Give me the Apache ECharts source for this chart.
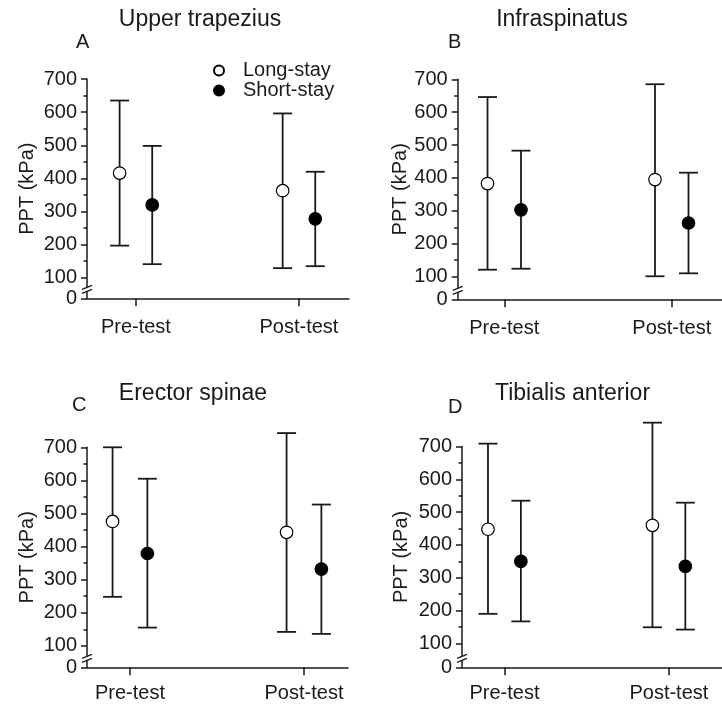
<!DOCTYPE html>
<html><head><meta charset="utf-8">
<script src="https://cdn.jsdelivr.net/npm/echarts@6/dist/echarts.min.js"></script>
<style>html,body{margin:0;padding:0;background:#fff}#c{width:722px;height:709px}</style>
</head><body><div id="c"></div>
<script>
// ---- data ----
const categories = ['Pre-test', 'Post-test'];
const muscles = ['Upper trapezius', 'Infraspinatus', 'Erector spinae', 'Tibialis anterior'];
const panelLetters = ['A', 'B', 'C', 'D'];
const seriesNames = ['Long-stay', 'Short-stay'];
const yTickValues = [100, 200, 300, 400, 500, 600, 700];
const yMinorTickValues = [150, 250, 350, 450, 550, 650];
const breakLabel = '0';
const yAxisName = 'PPT (kPa)';
// rows: muscles; columns: [Pre-test, Post-test]
const longMean  = [[416, 363], [383, 395], [476, 443], [448, 460]];
const longLow   = [[197, 129], [121, 101], [248, 142], [190, 149]];
const longHigh  = [[635, 596], [646, 685], [700, 743], [709, 773]];
const shortMean = [[320, 278], [303, 263], [379, 332], [350, 335]];
const shortLow  = [[141, 135], [124, 110], [155, 136], [167, 142]];
const shortHigh = [[498, 420], [483, 416], [605, 527], [535, 529]];

// ---- layout / style ----
const FONT = '"Liberation Sans", Arial, sans-serif';
const INK = '#1a1a1a';
const OFF = 0.1;
const FS = 20;
const panels = [
  {left: 87,    top: 79,    width: 262,   height: 219.3, xMin: -0.30,  xMax: 1.307, yMin: 38, nameGap: 50, xLabelMargin: 19, titleX: 200,   titleTop: 8,   letterX: 76,  letterTop: 32},
  {left: 457.7, top: 79.3,  width: 274.6, height: 220,   xMin: -0.278, xMax: 1.3,   yMin: 31, nameGap: 47, xLabelMargin: 19, titleX: 562,   titleTop: 8,   letterX: 448, letterTop: 32},
  {left: 87,    top: 447.3, width: 261,   height: 220,   xMin: -0.247, xMax: 1.253, yMin: 35, nameGap: 50, xLabelMargin: 16, titleX: 193,   titleTop: 382, letterX: 72,  letterTop: 395},
  {left: 462,   top: 446.6, width: 274,   height: 220.7, xMin: -0.258, xMax: 1.323, yMin: 27, nameGap: 51, xLabelMargin: 16, titleX: 572.5, titleTop: 382, letterX: 448, letterTop: 397}
];

const chart = echarts.init(document.getElementById('c'), null, {renderer: 'canvas'});

function errRender(params, api) {
  const x = api.value(0), lo = api.value(1), hi = api.value(2);
  const a = api.coord([x, lo]), b = api.coord([x, hi]);
  const hw = 9.5;
  const st = {stroke: INK, lineWidth: 1.8};
  return {type: 'group', children: [
    {type: 'line', shape: {x1: a[0], y1: a[1], x2: b[0], y2: b[1]}, style: st},
    {type: 'line', shape: {x1: a[0] - hw, y1: a[1], x2: a[0] + hw, y2: a[1]}, style: st},
    {type: 'line', shape: {x1: b[0] - hw, y1: b[1], x2: b[0] + hw, y2: b[1]}, style: st}
  ]};
}
function breakRender(params, api) {
  const p = api.coord([api.value(0), api.value(1)]);
  const cx = p[0], cy = p[1] - 9;
  const st = {stroke: INK, lineWidth: 1.3};
  return {type: 'group', children: [
    {type: 'polygon', shape: {points: [[cx - 5, cy], [cx + 5, cy - 4], [cx + 5, cy], [cx - 5, cy + 4]]}, style: {fill: '#fff'}},
    {type: 'line', shape: {x1: cx - 5, y1: cy, x2: cx + 5, y2: cy - 4}, style: st},
    {type: 'line', shape: {x1: cx - 5, y1: cy + 4, x2: cx + 5, y2: cy}, style: st}
  ]};
}

const titles = [];
panels.forEach((p, i) => {
  titles.push({text: muscles[i], left: p.titleX, top: p.titleTop, textAlign: 'center', padding: 0,
    textStyle: {fontFamily: FONT, fontSize: 23, fontWeight: 'normal', color: INK}});
  titles.push({text: panelLetters[i], left: p.letterX, top: p.letterTop, padding: 0,
    textStyle: {fontFamily: FONT, fontSize: 20, fontWeight: 'normal', color: INK}});
});

const xAxes = panels.map((p, i) => ({
  gridIndex: i, type: 'value', min: p.xMin, max: p.xMax,
  axisLine: {onZero: false, lineStyle: {color: INK, width: 1.5}},
  axisTick: {customValues: [0, 1], length: 8, lineStyle: {color: INK, width: 1.5}},
  axisLabel: {customValues: [0, 1], formatter: v => categories[Math.round(v)], fontFamily: FONT, fontSize: FS, color: INK, margin: p.xLabelMargin},
  splitLine: {show: false}
}));
const yMajor = panels.map((p, i) => ({
  gridIndex: i, type: 'value', min: p.yMin, max: 700, position: 'left',
  name: yAxisName, nameLocation: 'middle', nameGap: p.nameGap,
  nameTextStyle: {fontFamily: FONT, fontSize: FS, color: INK},
  axisLine: {show: true, onZero: false, lineStyle: {color: INK, width: 1.5}},
  axisTick: {customValues: [p.yMin].concat(yTickValues), length: 6, lineStyle: {color: INK, width: 1.5}},
  axisLabel: {customValues: [p.yMin].concat(yTickValues), formatter: v => (v < yTickValues[0] ? breakLabel : String(v)),
    fontFamily: FONT, fontSize: FS, color: INK, margin: 10},
  splitLine: {show: false}
}));
const yMinor = panels.map((p, i) => ({
  gridIndex: i, type: 'value', min: p.yMin, max: 700, position: 'left',
  axisLine: {show: false, onZero: false},
  axisTick: {show: true, customValues: yMinorTickValues, length: 3.5, lineStyle: {color: INK, width: 1.5}},
  axisLabel: {show: false}, splitLine: {show: false}
}));

const series = [];
panels.forEach((p, i) => {
  const groups = [
    {name: seriesNames[0], mean: longMean[i], lo: longLow[i], hi: longHigh[i], dx: -OFF, fill: '#fff'},
    {name: seriesNames[1], mean: shortMean[i], lo: shortLow[i], hi: shortHigh[i], dx: OFF, fill: '#000'}
  ];
  groups.forEach(g => {
    series.push({
      type: 'custom', xAxisIndex: i, yAxisIndex: i, clip: false, silent: true, z: 2,
      renderItem: errRender, encode: {x: 0, y: [1, 2]},
      data: categories.map((c, j) => [j + g.dx, g.lo[j], g.hi[j]])
    });
    series.push({
      type: 'scatter', name: g.name, xAxisIndex: i, yAxisIndex: i, clip: false, silent: true, z: 5,
      symbol: 'circle', symbolSize: 12.5,
      itemStyle: {color: g.fill, borderColor: '#000', borderWidth: 1.2, opacity: 1},
      emphasis: {disabled: true},
      data: categories.map((c, j) => [j + g.dx, g.mean[j]])
    });
  });
  series.push({
    type: 'custom', xAxisIndex: i, yAxisIndex: i, clip: false, silent: true, z: 6,
    renderItem: breakRender, data: [[p.xMin, p.yMin]]
  });
});

const legendBase = {
  orient: 'vertical', itemWidth: 10, itemHeight: 10, selectedMode: false, padding: 0,
  textStyle: {fontFamily: FONT, fontSize: FS, color: INK, padding: [0, 0, 0, 14]}
};
const option = {
  animation: false,
  backgroundColor: '#fff',
  textStyle: {fontFamily: FONT},
  title: titles,
  legend: [
    Object.assign({}, legendBase, {data: [seriesNames[0]], left: 213, top: 60.5}),
    Object.assign({}, legendBase, {data: [seriesNames[1]], left: 213, top: 80.5})
  ],
  grid: panels.map(p => ({left: p.left, top: p.top, width: p.width, height: p.height})),
  xAxis: xAxes,
  yAxis: yMajor.concat(yMinor),
  series: series
};
chart.setOption(option);
</script></body></html>
